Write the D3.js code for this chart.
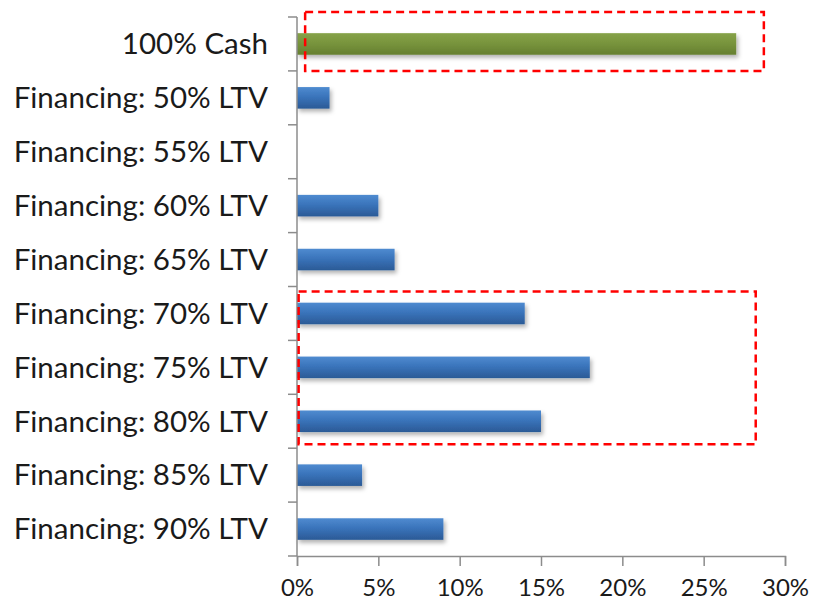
<!DOCTYPE html>
<html>
<head>
<meta charset="utf-8">
<script src="https://cdn.jsdelivr.net/npm/d3@7"></script>
<style>
  body { margin: 0; background: #fff; }
  text { font-family: Lato, "Open Sans", sans-serif; fill: #1a1a1a; }
</style>
</head>
<body>
<div id="chart"></div>
<script>
const categories = ["100% Cash", "Financing: 50% LTV", "Financing: 55% LTV", "Financing: 60% LTV",
    "Financing: 65% LTV", "Financing: 70% LTV", "Financing: 75% LTV", "Financing: 80% LTV",
    "Financing: 85% LTV", "Financing: 90% LTV"];
const shares = [27, 2, 0, 5, 6, 14, 18, 15, 4, 9];
const xTicks = [0, 5, 10, 15, 20, 25, 30];
// highlighted groups: [first category, last category]
const highlights = [["100% Cash", "100% Cash"], ["Financing: 70% LTV", "Financing: 80% LTV"]];

const W = 813, H = 605;
const plot = { left: 297, right: 785, top: 17, bottom: 556 };

const svg = d3.select("#chart").append("svg")
    .attr("width", W).attr("height", H);

const defs = svg.append("defs");
const blue = defs.append("linearGradient").attr("id", "blue").attr("x1", 0).attr("x2", 0).attr("y1", 0).attr("y2", 1);
blue.append("stop").attr("offset", "0%").attr("stop-color", "#4f8bd0");
blue.append("stop").attr("offset", "45%").attr("stop-color", "#3a74bb");
blue.append("stop").attr("offset", "100%").attr("stop-color", "#2b5a96");
const green = defs.append("linearGradient").attr("id", "green").attr("x1", 0).attr("x2", 0).attr("y1", 0).attr("y2", 1);
green.append("stop").attr("offset", "0%").attr("stop-color", "#86a248");
green.append("stop").attr("offset", "50%").attr("stop-color", "#77933c");
green.append("stop").attr("offset", "100%").attr("stop-color", "#657f30");
const shadow = defs.append("filter").attr("id", "shadow").attr("x", "-10%").attr("y", "-30%").attr("width", "130%").attr("height", "190%");
shadow.append("feDropShadow").attr("dx", 2).attr("dy", 3).attr("stdDeviation", 2)
    .attr("flood-color", "#000").attr("flood-opacity", 0.3);

const x = d3.scaleLinear().domain([0, 30]).range([plot.left, plot.right]);
const y = d3.scaleBand().domain(categories).range([plot.top, plot.bottom]).paddingInner(0.6).paddingOuter(0.3);
const band = d3.scaleBand().domain(categories).range([plot.top, plot.bottom]);

// bars
svg.selectAll(".bar")
    .data(categories)
    .enter().append("rect")
    .attr("class", "bar")
    .attr("x", x(0))
    .attr("y", d => y(d))
    .attr("width", (d, i) => x(shares[i]) - x(0))
    .attr("height", y.bandwidth())
    .attr("fill", (d, i) => i === 0 ? "url(#green)" : "url(#blue)")
    .attr("filter", (d, i) => shares[i] > 0 ? "url(#shadow)" : null);

// y axis
const axisColor = "#8c8c8c";
svg.append("line").attr("x1", plot.left).attr("x2", plot.left).attr("y1", plot.top).attr("y2", plot.bottom)
    .attr("stroke", axisColor).attr("stroke-width", 1.5);
svg.selectAll(".ytick")
    .data(categories.concat([null]))
    .enter().append("line")
    .attr("x1", plot.left - 9).attr("x2", plot.left)
    .attr("y1", (d, i) => plot.top + i * band.step())
    .attr("y2", (d, i) => plot.top + i * band.step())
    .attr("stroke", axisColor).attr("stroke-width", 1.5);
svg.selectAll(".ylabel")
    .data(categories)
    .enter().append("text")
    .attr("x", 268)
    .attr("y", d => band(d) + band.bandwidth() / 2)
    .attr("dy", "0.35em")
    .attr("text-anchor", "end")
    .attr("font-size", 29.5)
    .text(d => d);

// x axis
const xAxis = svg.append("g")
    .attr("transform", `translate(0,${plot.bottom})`)
    .call(d3.axisBottom(x).tickValues(xTicks).tickSize(10).tickPadding(13).tickFormat(d => d + "%"));
xAxis.select(".domain").attr("stroke", axisColor).attr("stroke-width", 1.5);
xAxis.selectAll(".tick line").attr("stroke", axisColor).attr("stroke-width", 1.5);
xAxis.selectAll(".tick text").attr("font-size", 24).attr("fill", "#1a1a1a")
    .style("font-family", "Lato, 'Open Sans', sans-serif");

// red dashed highlight boxes
svg.selectAll(".hl")
    .data(highlights)
    .enter().append("rect")
    .attr("x", (d, i) => i === 0 ? x(0.5) : x(0.1))
    .attr("y", (d, i) => band(d[0]) + (i === 0 ? -5 : 5))
    .attr("width", (d, i) => i === 0 ? x(28.7) - x(0.5) : x(28.2) - x(0.1))
    .attr("height", (d, i) => band(d[1]) + band.step() - band(d[0]) + (i === 0 ? 5 : -9))
    .attr("fill", "none")
    .attr("stroke", "#ff0000")
    .attr("stroke-width", 2.5)
    .attr("stroke-dasharray", "8,5");
</script>
</body>
</html>
